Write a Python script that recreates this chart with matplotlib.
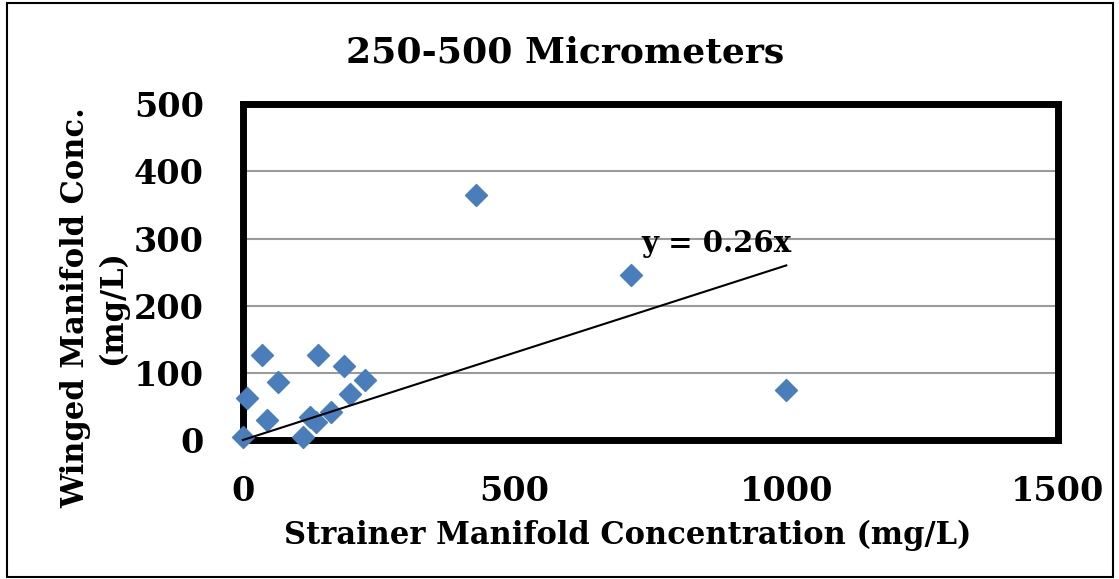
import matplotlib
matplotlib.use("Agg")
import matplotlib.pyplot as plt

# strainer vs winged manifold concentrations (mg/L), 250-500 um fraction
strainer = [0, 7, 35, 44, 65, 110, 123, 134, 162, 138, 186, 225, 197, 429, 714, 1000]
winged = [4, 62, 127, 30, 86, 4, 34, 27, 42, 127, 110, 89, 68, 365, 245, 75]
slope = 0.26
trend_x = [0, 1000]

plt.rcParams['font.family'] = ['DejaVu Serif']
plt.rcParams['font.weight'] = 'bold'

fig = plt.figure(figsize=(11.19, 5.79), dpi=100)
ax = fig.add_axes([0.217, 0.24, 0.7285, 0.58])

ax.scatter(strainer, winged, marker='D', s=125, color='#4a7ebb', zorder=5, clip_on=False)
ax.plot(trend_x, [slope * v for v in trend_x], color='black', lw=1.5, zorder=6, clip_on=False)
ax.text(734, 280, 'y = 0.26x', fontsize=21, fontweight='bold', va='baseline')

ax.set_xlim(0, 1500)
ax.set_ylim(0, 500)
ax.set_xticks([0, 500, 1000, 1500])
ax.set_yticks([0, 100, 200, 300, 400, 500])
ax.yaxis.grid(True, color='#9a9a9a', lw=1.5)
ax.set_axisbelow(True)
ax.tick_params(labelsize=24, length=0)
ax.tick_params(axis='x', pad=25)
ax.tick_params(axis='y', pad=28)
for sp in ax.spines.values():
    sp.set_linewidth(5)
    sp.set_color('black')

fig.text(0.505, 0.910, '250-500 Micrometers', fontsize=26, fontweight='bold',
         ha='center', va='center')
fig.text(0.561, 0.076, 'Strainer Manifold Concentration (mg/L)', fontsize=22,
         fontweight='bold', ha='center', va='center')
fig.text(0.084, 0.468, 'Winged Manifold Conc.\n(mg/L)', fontsize=22, fontweight='bold',
         ha='center', va='center', rotation=90, multialignment='center', linespacing=1.25)

fig.patches.append(plt.Rectangle((0.006, 0.004), 0.989, 0.99, transform=fig.transFigure,
                                 fill=False, edgecolor='black', lw=1.5))

fig.savefig('out.png', dpi=100)
